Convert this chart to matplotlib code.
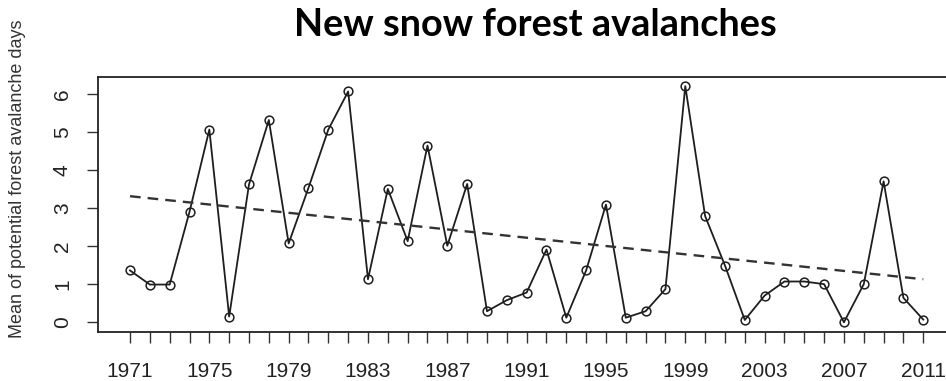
import numpy as np
import matplotlib.pyplot as plt

plt.rcParams['font.family'] = ['Liberation Sans', 'DejaVu Sans']

years = list(range(1971, 2012))
avalanche_days = [1.36, 0.99, 0.99, 2.90, 5.06, 0.15, 3.62, 5.31, 2.07, 3.53,
                  5.06, 6.06, 1.13, 3.50, 2.13, 4.64, 2.01, 3.63, 0.29, 0.58,
                  0.78, 1.91, 0.12, 1.36, 3.09, 0.12, 0.29, 0.87, 6.20, 2.79,
                  1.49, 0.06, 0.70, 1.07, 1.07, 1.00, 0.00, 1.00, 3.70, 0.64,
                  0.07]
trend_years = [1971, 2011]
trend_days = [3.31, 1.13]
label_years = list(range(1971, 2012, 4))
y_ticks = [0, 1, 2, 3, 4, 5, 6]

ink = '#1e1e1e'
fig = plt.figure(figsize=(9.46, 3.81), dpi=100)
ax = fig.add_axes([0.1039, 0.1294, 0.9056, 0.6693])

ax.plot(years, avalanche_days, color=ink, lw=1.3, marker='o', ms=6.3,
        mfc='none', mec=ink, mew=1.1)
ax.plot(trend_years, trend_days, color='#333333', lw=1.7,
        dashes=(4.5, 3))

ax.set_xlim(1969.4, 2012.6)
ax.set_ylim(-0.248, 6.448)
ax.set_xticks(years)
ax.set_xticklabels([str(y) if y in label_years else '' for y in years])
ax.set_yticks(y_ticks)
ax.set_yticklabels([str(v) for v in y_ticks], rotation=90, va='center')
ax.tick_params(axis='both', length=8, width=1, color='#333333',
               labelsize=15, labelcolor='#222222')
ax.tick_params(axis='x', pad=14)
ax.tick_params(axis='y', pad=11)
for s in ax.spines.values():
    s.set_color('#222222')
    s.set_linewidth(1.3)

fig.text(0.019, 0.532, 'Mean of potential forest avalanche days',
         rotation=90, ha='center', va='center', fontsize=13,
         color='#333333')
fig.text(0.5655, 0.905, 'New snow forest avalanches', ha='center',
         va='baseline', fontsize=27.3, fontweight='bold', family='Lato')

fig.savefig('out.png', dpi=100)
